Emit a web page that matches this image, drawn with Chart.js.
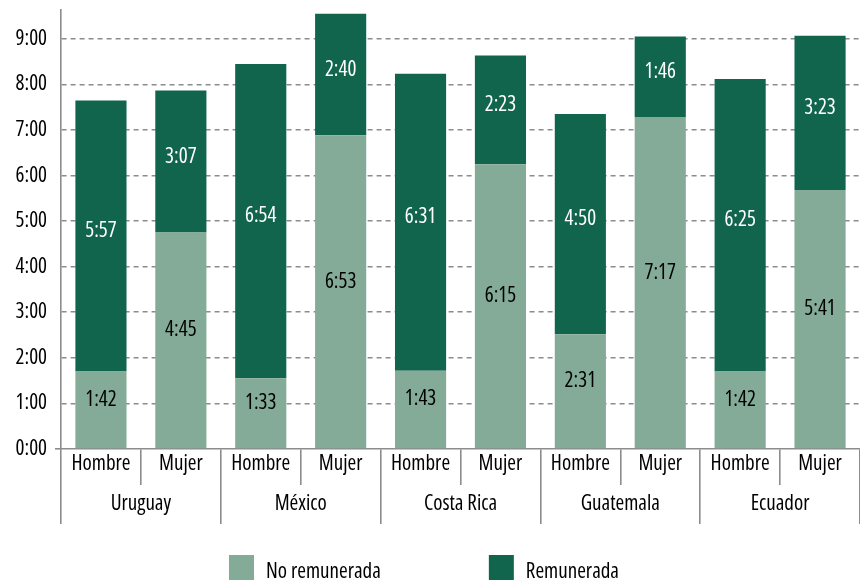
<!DOCTYPE html>
<html>
<head>
<meta charset="utf-8">
<script src="https://cdn.jsdelivr.net/npm/chart.js@4/dist/chart.umd.min.js"></script>
<style>
  html, body { margin: 0; padding: 0; background: #fff; }
  #wrap { width: 860px; height: 583px; position: relative; }
</style>
</head>
<body>
<div id="wrap"><canvas id="chart"></canvas></div>
<script>
// Data (minutes per day)
const sexes = ['Hombre', 'Mujer', 'Hombre', 'Mujer', 'Hombre', 'Mujer', 'Hombre', 'Mujer', 'Hombre', 'Mujer'];
const countries = ['Uruguay', 'México', 'Costa Rica', 'Guatemala', 'Ecuador'];
const noRemunerada = [102, 285, 93, 413, 103, 375, 151, 437, 102, 341];
const remunerada = [357, 187, 414, 160, 391, 143, 290, 106, 385, 203];
const seriesNames = ['No remunerada', 'Remunerada'];

const LIGHT = '#83ab97';
const DARK = '#12654d';
const AXIS = '#8c8c8c';

// Pick the narrowest available condensed face (reference uses a condensed sans)
function pickFont() {
    const c = document.createElement('canvas').getContext('2d');
    const candidates = [
        { weight: undefined, family: "'Liberation Sans Narrow'" },
        { weight: undefined, family: "'DejaVu Sans Condensed'" },
        { weight: 'condensed', family: "'Open Sans'" },
        { weight: 'condensed', family: "'Noto Sans'" },
        { weight: 'condensed', family: "'DejaVu Sans'" },
        { weight: undefined, family: 'Roboto' }
    ];
    let best = candidates[candidates.length - 1], bestW = Infinity;
    candidates.forEach(cand => {
        const str = (cand.weight ? cand.weight + ' ' : '') + '20px ' + cand.family + ', monospace';
        c.font = str;
        const w = c.measureText('Hombre Mujer').width;
        if (w < bestW) { bestW = w; best = cand; }
    });
    return best;
}
const PICK = pickFont();
const FONT = PICK.family + ", 'Liberation Sans', sans-serif";
const SIZE = 21;
const fontStr = size => (PICK.weight ? PICK.weight + ' ' : '') + size + 'px ' + FONT;
const tickFont = size => ({ family: FONT, size: size, weight: PICK.weight });

function fmt(min) {
    const h = Math.floor(min / 60);
    const m = Math.round(min % 60);
    return h + ':' + String(m).padStart(2, '0');
}

// Value labels inside each segment
const segmentLabels = {
    id: 'segmentLabels',
    afterDatasetsDraw(chart) {
        const ctx = chart.ctx;
        ctx.save();
        ctx.font = fontStr(SIZE);
        ctx.textAlign = 'center';
        ctx.textBaseline = 'middle';
        chart.data.datasets.forEach((ds, di) => {
            const meta = chart.getDatasetMeta(di);
            ctx.fillStyle = di === 0 ? '#000' : '#fff';
            meta.data.forEach((bar, i) => {
                const y = (bar.y + bar.base) / 2 + (di === 0 ? -10 : -5);
                ctx.fillText(fmt(ds.data[i]), bar.x, y);
            });
        });
        ctx.restore();
    }
};

// Legend drawn under the axes
const bottomLegend = {
    id: 'bottomLegend',
    afterDraw(chart) {
        const ctx = chart.ctx;
        ctx.save();
        ctx.font = fontStr(SIZE);
        const box = 25, textGap = 12, itemGap = 108;
        const widths = chart.data.datasets.map(ds => ctx.measureText(ds.label).width);
        const total = widths.reduce((a, w) => a + box + textGap + w, 0) + itemGap * (widths.length - 1);
        let x = (chart.width - total) / 2 - 6;
        const y = 555;
        ctx.textBaseline = 'middle';
        ctx.textAlign = 'left';
        chart.data.datasets.forEach((ds, i) => {
            ctx.fillStyle = ds.backgroundColor;
            ctx.fillRect(x, y, box, box);
            ctx.fillStyle = '#000';
            ctx.fillText(ds.label, x + box + textGap, y + 17);
            x += box + textGap + widths[i] + itemGap;
        });
        ctx.restore();
    }
};

new Chart(document.getElementById('chart'), {
    type: 'bar',
    data: {
        labels: sexes,
        datasets: [
            { label: seriesNames[0], data: noRemunerada, backgroundColor: LIGHT },
            { label: seriesNames[1], data: remunerada, backgroundColor: DARK }
        ]
    },
    options: {
        responsive: true,
        maintainAspectRatio: false,
        animation: false,
        devicePixelRatio: 1,
        layout: { padding: { top: 10, right: 0, bottom: 59, left: 0 } },
        datasets: { bar: { categoryPercentage: 1, barPercentage: 0.64 } },
        plugins: { legend: { display: false }, tooltip: { enabled: false } },
        scales: {
            x: {
                stacked: true,
                border: { display: true, color: AXIS, width: 1.6 },
                grid: { offset: true, drawOnChartArea: false, color: AXIS, lineWidth: 1.6, tickLength: 36 },
                ticks: { color: '#000', font: tickFont(SIZE), padding: -34, maxRotation: 0 },
                afterFit(scale) { scale.height = 36; }
            },
            x2: {
                type: 'category',
                labels: countries,
                position: 'bottom',
                offset: true,
                border: { display: false },
                grid: { offset: true, drawOnChartArea: false, color: AXIS, lineWidth: 1.6, tickLength: 39 },
                ticks: { color: '#000', font: tickFont(SIZE), padding: -33, maxRotation: 0 },
                afterFit(scale) { scale.height = 39; }
            },
            y: {
                stacked: true,
                min: 0,
                max: 578,
                border: { display: true, color: AXIS, width: 1.6, dash: [5, 4] },
                grid: {
                    color: ctx => ctx.tick && ctx.tick.value === 0 ? 'rgba(0,0,0,0)' : AXIS,
                    lineWidth: 1.6,
                    drawTicks: true,
                    tickLength: 6,
                    tickWidth: 1.6,
                    tickColor: ctx => ctx.tick && ctx.tick.value === 0 ? AXIS : 'rgba(0,0,0,0)'
                },
                ticks: {
                    stepSize: 60,
                    color: '#000',
                    font: tickFont(SIZE),
                    padding: 8,
                    callback: v => fmt(v)
                },
                afterBuildTicks(scale) {
                    scale.ticks = scale.ticks.filter(t => t.value % 60 === 0);
                },
                afterFit(scale) {
                    scale.width = 61;
                    scale.paddingTop = 0;
                    scale.paddingBottom = 0;
                }
            }
        }
    },
    plugins: [segmentLabels, bottomLegend]
});
</script>
</body>
</html>
